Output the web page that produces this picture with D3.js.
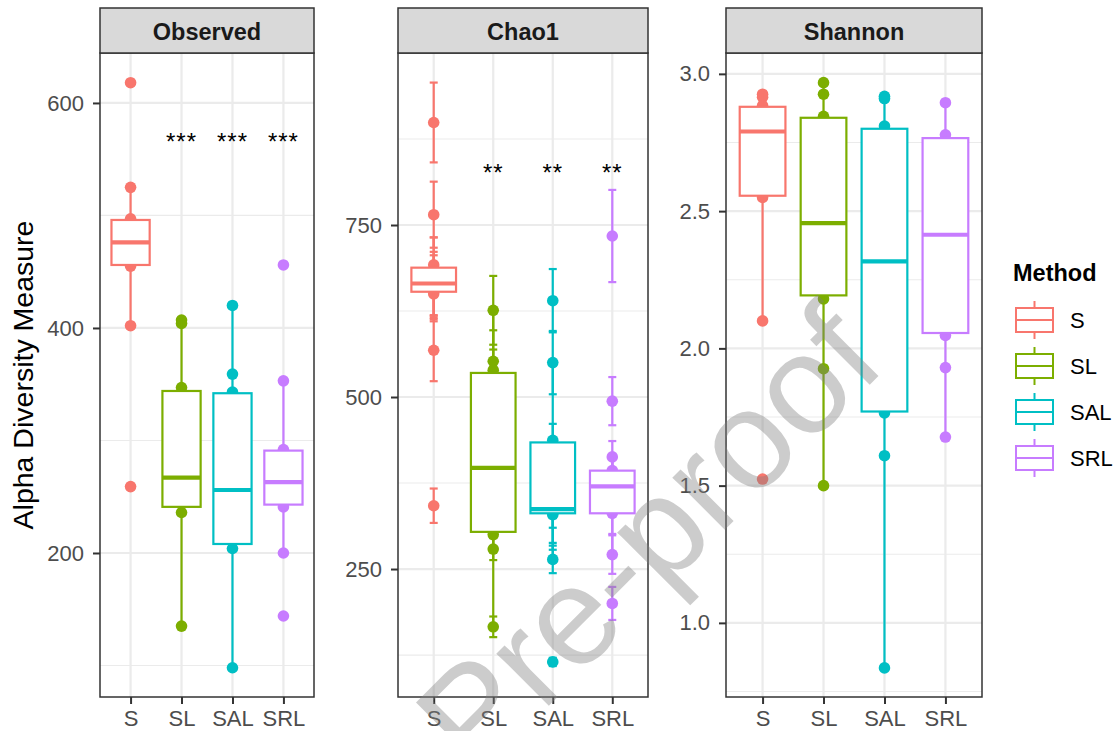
<!DOCTYPE html>
<html lang="en">
<head>
<meta charset="utf-8" />
<title>Alpha Diversity</title>
<script src="https://cdn.jsdelivr.net/npm/d3@7"></script>
<style>
  body { margin: 0; background: #fff; }
</style>
</head>
<body>
<svg id="chart" width="1117" height="731"></svg>
<script>
// ---- data ----
const methods = ["S", "SL", "SAL", "SRL"];
const methodColors = ["#F8766D", "#7CAE00", "#00BFC4", "#C77CFF"];
const panelNames = ["Observed", "Chao1", "Shannon"];

// box stats: [lower whisker, q1, median, q3, upper whisker]
const observedBox = [[402, 456, 476, 496, 525], [135, 241, 267, 344, 407], [98, 208, 256, 342, 420], [200, 243, 263, 291, 353]];
const observedPoints = [[618, 525, 497, 455, 402, 259], [407, 404, 347, 236, 135], [420, 359, 343, 204, 98], [456, 353, 292, 241, 200, 144]];
const observedStars = ["", "***", "***", "***"];
const observedStarValue = 570;
const observedTicks = [200, 400, 600];
const observedMinor = [100, 300, 500];

const chao1Box = [[648, 653, 665, 688, 692], [166, 304, 397, 535, 626], [264, 331, 337, 434, 550], [271, 331, 370, 393, 413]];
// [chao1, se.chao1]
const chao1Points = [
  [[899, 58], [765, 48], [692, 40], [675, 57], [665, 46], [658, 48], [650, 35], [568, 45], [342, 25]],
  [[626, 50], [552, 45], [539, 30], [450, 40], [350, 40], [300, 22], [279, 16], [166, 15]],
  [[640, 46], [550, 46], [437, 24], [345, 21], [336, 48], [331, 21], [329, 51], [264, 20], [115, 6]],
  [[734, 67], [494, 35], [413, 23], [393, 20], [370, 40], [331, 30], [271, 28], [200, 24]]
];
const chao1Stars = ["", "**", "**", "**"];
const chao1StarValue = 833;
const chao1Ticks = [250, 500, 750];
const chao1Minor = [125, 375, 625, 875];

const shannonBox = [[2.10, 2.556, 2.79, 2.88, 2.93], [1.50, 2.193, 2.456, 2.84, 2.968], [0.836, 1.77, 2.317, 2.80, 2.914], [1.677, 2.056, 2.414, 2.766, 2.895]];
const shannonPoints = [[2.926, 2.915, 2.884, 2.55, 2.10, 1.524], [2.968, 2.926, 2.845, 2.18, 1.926, 1.50], [2.918, 2.91, 2.81, 1.765, 1.609, 0.836], [2.895, 2.778, 2.047, 1.93, 1.677]];
const shannonTicks = [1.0, 1.5, 2.0, 2.5, 3.0];
const shannonMinor = [0.75, 1.25, 1.75, 2.25, 2.75];

// ---- layout ----
const font = "'Liberation Sans', Arial, Helvetica, sans-serif";
const plotTop = 53, plotBottom = 697, stripTop = 8;
const color = d3.scaleOrdinal().domain(methods).range(methodColors);

const panels = [
  { name: panelNames[0], x0: 100, x1: 314, domain: [72, 644.4], box: observedBox,
    points: observedPoints.map(a => a.map(v => [v, 0])), ticks: observedTicks, minor: observedMinor,
    fmt: d3.format("d"), stars: observedStars, starValue: observedStarValue },
  { name: panelNames[1], x0: 398, x1: 648, domain: [64, 1000], box: chao1Box,
    points: chao1Points, ticks: chao1Ticks, minor: chao1Minor,
    fmt: d3.format("d"), stars: chao1Stars, starValue: chao1StarValue },
  { name: panelNames[2], x0: 726, x1: 982, domain: [0.73, 3.076], box: shannonBox,
    points: shannonPoints.map(a => a.map(v => [v, 0])), ticks: shannonTicks, minor: shannonMinor,
    fmt: d3.format(".1f"), stars: null }
];

const svg = d3.select("#chart").attr("font-family", font);

panels.forEach(drawPanel);

function drawPanel(p) {
  const x = d3.scalePoint().domain(methods).range([p.x0, p.x1]).padding(0.6);
  const y = d3.scaleLinear().domain(p.domain).range([plotBottom, plotTop]);
  const boxW = x.step() * 0.75;
  const g = svg.append("g");

  // grid
  g.selectAll(".minor").data(p.minor).join("line")
    .attr("x1", p.x0).attr("x2", p.x1)
    .attr("y1", d => y(d)).attr("y2", d => y(d))
    .attr("stroke", "#EBEBEB").attr("stroke-width", 1.2);
  g.selectAll(".major").data(p.ticks).join("line")
    .attr("x1", p.x0).attr("x2", p.x1)
    .attr("y1", d => y(d)).attr("y2", d => y(d))
    .attr("stroke", "#EBEBEB").attr("stroke-width", 2.2);
  g.selectAll(".vmajor").data(methods).join("line")
    .attr("x1", d => x(d)).attr("x2", d => x(d))
    .attr("y1", plotTop).attr("y2", plotBottom)
    .attr("stroke", "#EBEBEB").attr("stroke-width", 2.2);

  // points + error bars
  methods.forEach((m, i) => {
    const cx = x(m);
    const pts = p.points[i];
    const eb = g.append("g");
    pts.filter(d => d[1] > 0).forEach(d => {
      eb.append("line").attr("x1", cx).attr("x2", cx)
        .attr("y1", y(d[0] - d[1])).attr("y2", y(d[0] + d[1]))
        .attr("stroke", color(m)).attr("stroke-width", 2.2);
      [d[0] - d[1], d[0] + d[1]].forEach(e => {
        eb.append("line").attr("x1", cx - 4).attr("x2", cx + 4)
          .attr("y1", y(e)).attr("y2", y(e))
          .attr("stroke", color(m)).attr("stroke-width", 2.2);
      });
    });
    g.selectAll(null).data(pts).join("circle")
      .attr("cx", cx).attr("cy", d => y(d[0])).attr("r", 5.8)
      .attr("fill", color(m));
  });

  // boxes
  methods.forEach((m, i) => {
    const [lo, q1, med, q3, hi] = p.box[i];
    const cx = x(m);
    const b = g.append("g").attr("stroke", color(m)).attr("fill", "none");
    b.append("line").attr("x1", cx).attr("x2", cx).attr("y1", y(q3)).attr("y2", y(hi)).attr("stroke-width", 2.2);
    b.append("line").attr("x1", cx).attr("x2", cx).attr("y1", y(q1)).attr("y2", y(lo)).attr("stroke-width", 2.2);
    b.append("rect").attr("x", cx - boxW / 2).attr("width", boxW)
      .attr("y", y(q3)).attr("height", y(q1) - y(q3))
      .attr("fill", "#fff").attr("stroke-width", 2.2);
    b.append("line").attr("x1", cx - boxW / 2).attr("x2", cx + boxW / 2)
      .attr("y1", y(med)).attr("y2", y(med)).attr("stroke-width", 4.2);
  });

  // significance stars
  if (p.stars) {
    g.selectAll(".star").data(methods).join("text")
      .attr("x", d => x(d)).attr("y", y(p.starValue) + 13)
      .attr("text-anchor", "middle").attr("font-size", 24).attr("fill", "#000")
      .attr("letter-spacing", 1)
      .text((d, i) => p.stars[i]);
  }

  // panel border
  g.append("rect").attr("x", p.x0).attr("y", plotTop)
    .attr("width", p.x1 - p.x0).attr("height", plotBottom - plotTop)
    .attr("fill", "none").attr("stroke", "#333333").attr("stroke-width", 1.5);

  // strip
  g.append("rect").attr("x", p.x0).attr("y", stripTop)
    .attr("width", p.x1 - p.x0).attr("height", plotTop - stripTop)
    .attr("fill", "#D9D9D9").attr("stroke", "#333333").attr("stroke-width", 1.5);
  g.append("text").attr("x", (p.x0 + p.x1) / 2).attr("y", 39.5)
    .attr("text-anchor", "middle").attr("font-size", 23.5).attr("font-weight", "bold")
    .attr("fill", "#1A1A1A").text(p.name);

  // axes
  const yAxis = svg.append("g").attr("transform", `translate(${p.x0},0)`)
    .call(d3.axisLeft(y).tickValues(p.ticks).tickFormat(p.fmt).tickSize(7).tickPadding(9));
  const xAxis = svg.append("g").attr("transform", `translate(0,${plotBottom})`)
    .call(d3.axisBottom(x).tickSize(7).tickPadding(6));
  [yAxis, xAxis].forEach(a => {
    a.select(".domain").remove();
    a.selectAll(".tick line").attr("stroke", "#333333").attr("stroke-width", 2);
    a.selectAll(".tick text").attr("fill", "#4D4D4D").attr("font-size", 22).attr("font-family", font);
  });
}

// y axis title
svg.append("text")
  .attr("transform", `translate(33,${(plotTop + plotBottom) / 2}) rotate(-90)`)
  .attr("text-anchor", "middle").attr("font-size", 28.5).attr("fill", "#000")
  .text("Alpha Diversity Measure");

// legend
const legend = svg.append("g").attr("transform", "translate(1013,0)");
legend.append("text").attr("x", 0).attr("y", 281)
  .attr("font-size", 23.5).attr("font-weight", "bold").attr("fill", "#000").text("Method");
const item = legend.selectAll(".item").data(methods).join("g")
  .attr("transform", (d, i) => `translate(0,${320 + i * 46})`);
item.append("line").attr("x1", 21.5).attr("x2", 21.5).attr("y1", -19).attr("y2", 19)
  .attr("stroke", d => color(d)).attr("stroke-width", 2);
item.append("rect").attr("x", 3).attr("y", -12).attr("width", 37).attr("height", 24)
  .attr("fill", "#fff").attr("stroke", d => color(d)).attr("stroke-width", 2);
item.append("line").attr("x1", 3).attr("x2", 40).attr("y1", 0).attr("y2", 0)
  .attr("stroke", d => color(d)).attr("stroke-width", 2);
item.append("text").attr("x", 57).attr("y", 8)
  .attr("font-size", 22).attr("fill", "#000").text(d => d);

// watermark
svg.append("text")
  .attr("transform", "translate(648,538) rotate(-45)")
  .attr("text-anchor", "middle").attr("dominant-baseline", "central")
  .attr("font-size", 140).attr("fill", "#808080").attr("fill-opacity", 0.4)
  .text("Pre-proof");
</script>
</body>
</html>
